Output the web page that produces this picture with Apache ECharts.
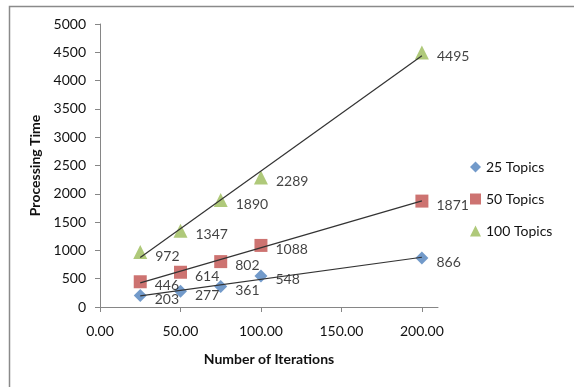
<!DOCTYPE html>
<html>
<head>
<meta charset="utf-8">
<script src="https://cdn.jsdelivr.net/npm/echarts@6/dist/echarts.min.js"></script>
<style>
  html, body { margin: 0; padding: 0; background: #fff; }
  #chart { width: 574px; height: 387px; }
</style>
</head>
<body>
<div id="chart"></div>
<script>
// Iterations on the x axis and measured processing time per topic count
const iterations = [25, 50, 75, 100, 200];
const topics25 = [203, 277, 361, 548, 866];
const topics50 = [446, 614, 802, 1088, 1871];
const topics100 = [972, 1347, 1890, 2289, 4495];
const seriesNames = ['25 Topics', '50 Topics', '100 Topics'];
const xTickValues = [0, 50, 100, 150, 200];

const FONT = 'Lato, "Open Sans", sans-serif';
const TEXT = '#111';
const FS = 14;

// Least-squares linear trendline across the data's x range
function trend(xs, ys) {
  const n = xs.length;
  const mx = xs.reduce((a, b) => a + b, 0) / n;
  const my = ys.reduce((a, b) => a + b, 0) / n;
  let sxy = 0, sxx = 0;
  for (let i = 0; i < n; i++) {
    sxy += (xs[i] - mx) * (ys[i] - my);
    sxx += (xs[i] - mx) * (xs[i] - mx);
  }
  const k = sxy / sxx, b = my - k * mx;
  const x0 = Math.min(...xs), x1 = Math.max(...xs);
  return [[x0, k * x0 + b], [x1, k * x1 + b]];
}

function pairs(ys) { return iterations.map((x, i) => [x, ys[i]]); }

const groups = [
  { name: seriesNames[0], ys: topics25, color: '#4F81BD', symbol: 'diamond', size: 13 },
  { name: seriesNames[1], ys: topics50, color: '#C0504D', symbol: 'rect', size: 13 },
  { name: seriesNames[2], ys: topics100, color: '#9BBB59', symbol: 'triangle', size: 14 }
];

const series = [];
groups.forEach(g => {
  series.push({
    name: g.name + ' trend',
    type: 'line',
    data: trend(iterations, g.ys),
    symbol: 'none',
    silent: true,
    lineStyle: { color: '#333', width: 1.2 },
    z: 3
  });
});
groups.forEach(g => {
  series.push({
    name: g.name,
    type: 'scatter',
    data: pairs(g.ys),
    symbol: g.symbol,
    symbolSize: g.size,
    itemStyle: { color: g.color },
    z: 2,
    label: {
      show: true,
      position: 'right',
      distance: 8,
      offset: [0, 4],
      formatter: p => String(p.value[1]),
      color: TEXT,
      fontFamily: FONT,
      fontSize: FS
    }
  });
});

const chart = echarts.init(document.getElementById('chart'), null, { renderer: 'canvas' });
chart.setOption({
  animation: false,
  backgroundColor: '#fff',
  graphic: [{
    type: 'rect',
    shape: { x: 9.5, y: 6.5, width: 700, height: 500 },
    style: { fill: 'none', stroke: '#8a8a8a', lineWidth: 1.5 },
    silent: true, z: -1
  }],
  grid: { left: 100, top: 24, right: 136, bottom: 80 },
  legend: {
    data: groups.map(g => ({ name: g.name, icon: g.symbol })),
    orient: 'vertical',
    left: 470,
    top: 160,
    padding: 0,
    itemWidth: 11,
    itemHeight: 11,
    itemGap: 18,
    textStyle: { color: TEXT, fontFamily: FONT, fontSize: FS }
  },
  xAxis: {
    type: 'value',
    min: 0,
    max: 210,
    interval: 50,
    name: 'Number of Iterations',
    nameLocation: 'middle',
    nameGap: 45,
    nameTextStyle: { color: TEXT, fontFamily: FONT, fontSize: FS, fontWeight: 'bold' },
    splitLine: { show: false },
    axisLine: { lineStyle: { color: '#868686' } },
    axisTick: { show: true, length: 5, lineStyle: { color: '#868686' }, customValues: xTickValues },
    axisLabel: {
      color: TEXT, fontFamily: FONT, fontSize: FS, margin: 17,
      customValues: xTickValues,
      formatter: v => v.toFixed(2)
    }
  },
  yAxis: {
    type: 'value',
    min: 0,
    max: 5000,
    interval: 500,
    name: 'Processing Time',
    nameLocation: 'middle',
    nameGap: 52,
    nameTextStyle: { color: TEXT, fontFamily: FONT, fontSize: FS, fontWeight: 'bold' },
    splitLine: { show: false },
    axisLine: { show: true, lineStyle: { color: '#868686' } },
    axisTick: { show: true, length: 5, lineStyle: { color: '#868686' } },
    axisLabel: { color: TEXT, fontFamily: FONT, fontSize: FS, margin: 14, formatter: v => String(v) }
  },
  series: series
});
</script>
</body>
</html>
